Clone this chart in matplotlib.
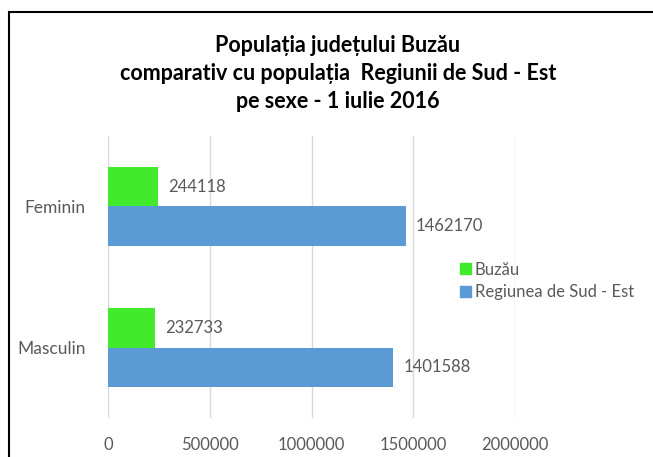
import matplotlib
matplotlib.use("Agg")
import matplotlib.pyplot as plt
from matplotlib.patches import Rectangle, Patch
import numpy as np

# === Datos ===
categorii = ["Feminin", "Masculin"]
buzau = [244118, 232733]
regiune = [1462170, 1401588]
serii = ["Buzău", "Regiunea de Sud - Est"]
tick_vals = [0, 500000, 1000000, 1500000, 2000000]

verde = "#41EA2B"
albastru = "#5B9BD5"
gri = "#595959"

plt.rcParams["font.family"] = ["Lato", "DejaVu Sans"]

fig = plt.figure(figsize=(6.53, 4.57), dpi=100)
ax = fig.add_axes([108 / 653, 1 - 418 / 457, (515 - 108) / 653, (418 - 136) / 457])

y = np.arange(len(categorii))
h = 0.28
ax.barh(y - h / 2, buzau, height=h, color=verde, zorder=3)
ax.barh(y + h / 2, regiune, height=h, color=albastru, zorder=3)

for yi, v in zip(y, buzau):
    ax.text(v + 50000, yi - h / 2, str(v), va="center", ha="left", fontsize=12, color=gri)
for yi, v in zip(y, regiune):
    ax.text(v + 50000, yi + h / 2, str(v), va="center", ha="left", fontsize=12, color=gri)

ax.set_xlim(0, 2000000)
ax.set_ylim(1.5, -0.5)
ax.set_xticks(tick_vals)
ax.set_xticklabels([str(t) for t in tick_vals], fontsize=12, color=gri)
ax.set_yticks(y)
ax.set_yticklabels(categorii, fontsize=12.5, color=gri)
ax.tick_params(length=0, pad=14)
ax.tick_params(axis="y", pad=16)
ax.grid(axis="x", color="#D9D9D9", linewidth=1, zorder=0)
for s in ax.spines.values():
    s.set_visible(False)

# titlu
titlu = ["Populația județului Buzău",
         "comparativ cu populația  Regiunii de Sud - Est",
         "pe sexe - 1 iulie 2016"]
for i, linie in enumerate(titlu):
    fig.text(338 / 653, 1 - (45 + 28 * i) / 457, linie, ha="center", va="center",
             fontsize=15.5, fontweight="bold", color="black")

# legenda
handles = [Patch(color=verde), Patch(color=albastru)]
fig.legend(handles, serii, loc="center left", bbox_to_anchor=(460 / 653, 1 - 281 / 457),
           frameon=False, fontsize=12, handlelength=0.65, handleheight=0.65,
           handletextpad=0.25, labelspacing=0.4, borderpad=0, borderaxespad=0,
           labelcolor=gri)

# chenar
fig.patches.append(Rectangle((8.5 / 653, -0.1), 1.2, 1 - 12.5 / 457 + 0.1, transform=fig.transFigure,
                             fill=False, edgecolor="black", linewidth=1.5))

fig.savefig("out.png", dpi=100)
